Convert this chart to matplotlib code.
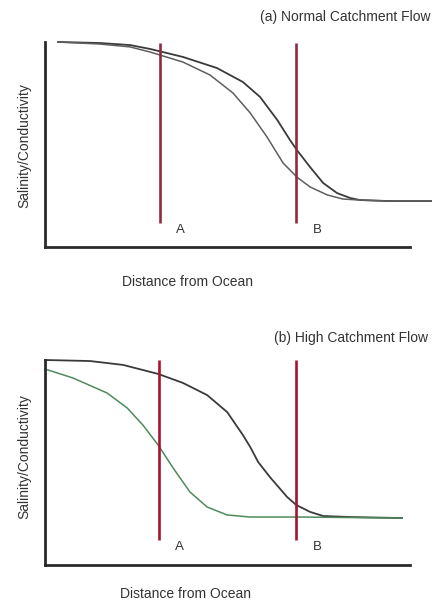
import matplotlib.pyplot as plt

plt.rcParams['font.family'] = ['Liberation Sans', 'DejaVu Sans']

# (a) normal catchment flow
dist_a1 = [0.36, 1.51, 2.33, 2.88, 3.78, 4.71, 5.42, 5.89, 6.36, 6.71, 6.90, 7.26,
           7.62, 8.00, 8.36, 8.63, 9.45, 10.6]
sal_a1 = [10.0, 9.95, 9.85, 9.66, 9.27, 8.73, 8.05, 7.32, 6.20, 5.22, 4.73, 3.90,
          3.12, 2.63, 2.39, 2.29, 2.24, 2.24]
dist_a2 = [0.36, 1.51, 2.33, 2.88, 3.78, 4.52, 5.15, 5.62, 6.08, 6.52, 6.90, 7.26,
           7.73, 8.16, 8.63, 9.45, 10.6]
sal_a2 = [10.0, 9.90, 9.76, 9.51, 9.02, 8.39, 7.51, 6.54, 5.37, 4.10, 3.41, 2.93,
          2.54, 2.34, 2.29, 2.24, 2.24]

# (b) high catchment flow
dist_b1 = [0.0, 1.23, 2.14, 3.10, 3.78, 4.44, 4.99, 5.42, 5.62, 5.84, 6.16, 6.63,
           6.88, 7.26, 7.62, 8.36, 9.78]
sal_b1 = [10.0, 9.95, 9.76, 9.32, 8.88, 8.29, 7.46, 6.34, 5.76, 5.02, 4.29, 3.32,
          2.93, 2.59, 2.39, 2.34, 2.29]
dist_b2 = [0.0, 0.77, 1.70, 2.25, 2.68, 3.10, 3.51, 3.97, 4.44, 4.99, 5.62, 6.99, 9.78]
sal_b2 = [9.56, 9.12, 8.39, 7.66, 6.83, 5.85, 4.73, 3.56, 2.83, 2.44, 2.34, 2.34, 2.29]

# sites A and B
site_names = ['A', 'B']
site_x_a = [3.15, 6.88]
site_x_b = [3.12, 6.88]

W, H = 432, 603
fig = plt.figure(figsize=(W / 100, H / 100), dpi=100)


def make_axes(top_px):
    ax = fig.add_axes([45 / W, 1 - (top_px + 205) / H, 387 / W, 205 / H])
    ax.set_xlim(0, 10.6)
    ax.set_ylim(0, 10)
    for s in ['top', 'right']:
        ax.spines[s].set_visible(False)
    for s in ['left', 'bottom']:
        ax.spines[s].set_linewidth(2.0)
        ax.spines[s].set_color('#2a2a2a')
    ax.spines['bottom'].set_bounds(0, 10)
    ax.set_xticks([])
    ax.set_yticks([])
    ax.patch.set_alpha(0)
    return ax


def sites(ax, xs, y0, y1, col):
    for name, x in zip(site_names, xs):
        ax.plot([x, x], [y0, y1], color=col, lw=1.9, solid_capstyle='butt')
        ax.text(x + 0.45, y0 - 0.05, name, fontsize=9.5, color='#333333',
                ha='left', va='top')


# panel (a)
ax1 = make_axes(42)
ax1.plot(dist_a1, sal_a1, color='#3a3a3a', lw=1.3, clip_on=False,
         solid_joinstyle='round')
ax1.plot(dist_a2, sal_a2, color='#5e5e5e', lw=1.1, clip_on=False,
         solid_joinstyle='round')
sites(ax1, site_x_a, 1.17, 9.95, '#8e2a44')

# panel (b)
ax2 = make_axes(360)
ax2.plot(dist_b1, sal_b1, color='#3a3a3a', lw=1.3, clip_on=False,
         solid_joinstyle='round')
ax2.plot(dist_b2, sal_b2, color='#4f8a5e', lw=1.1, clip_on=False,
         solid_joinstyle='round')
sites(ax2, site_x_b, 1.22, 10.0, '#a5142e')

# titles and axis labels
fs = 10
fig.text(430 / W, 1 - 17 / H, '(a) Normal Catchment Flow', fontsize=fs,
         color='#333333', ha='right', va='center')
fig.text(428 / W, 1 - 338 / H, '(b) High Catchment Flow', fontsize=fs,
         color='#333333', ha='right', va='center')
fig.text(188 / W, 1 - 282 / H, 'Distance from Ocean', fontsize=fs,
         color='#333333', ha='center', va='center')
fig.text(186 / W, 1 - 594 / H, 'Distance from Ocean', fontsize=fs,
         color='#333333', ha='center', va='center')
fig.text(24 / W, 1 - 146 / H, 'Salinity/Conductivity', fontsize=fs,
         color='#333333', ha='center', va='center', rotation=90)
fig.text(24 / W, 1 - 457 / H, 'Salinity/Conductivity', fontsize=fs,
         color='#333333', ha='center', va='center', rotation=90)

fig.savefig('out.png', dpi=100)
